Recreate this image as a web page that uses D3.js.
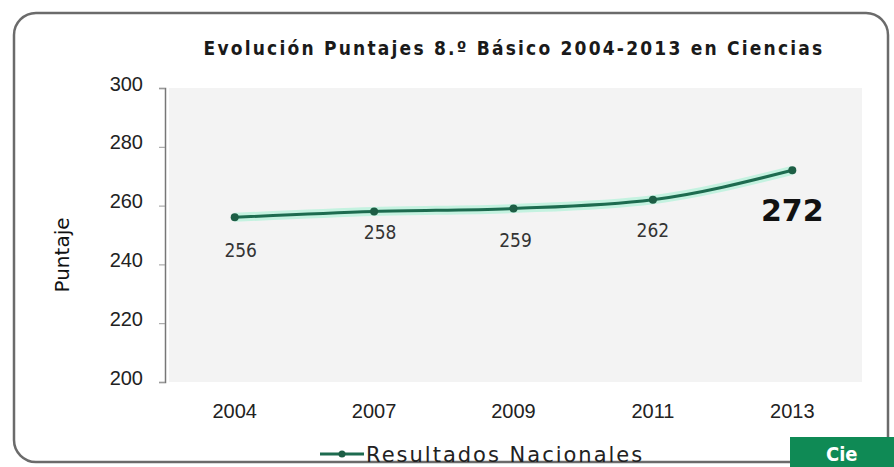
<!DOCTYPE html>
<meta charset="utf-8">
<style>
body { margin: 0; background: #fff; }
svg { display: block; font-family: "DejaVu Sans Condensed", "DejaVu Sans", sans-serif; }
.ticks text { font-size: 20px; fill: #222; }
</style>
<body></body>
<script src="https://cdn.jsdelivr.net/npm/d3@7"></script>
<script>

// data
var years = ["2004", "2007", "2009", "2011", "2013"];
var scores = [256, 258, 259, 262, 272];
var yTicks = [200, 220, 240, 260, 280, 300];

var width = 894, height = 467;
var plot = {left: 165, right: 862, top: 88, bottom: 382};

var svg = d3.select("body").append("svg")
    .attr("width", width)
    .attr("height", height);

// slide frame with rounded corners
svg.append("rect")
    .attr("x", 14).attr("y", 13)
    .attr("width", 874).attr("height", 449)
    .attr("rx", 22)
    .attr("fill", "#fff")
    .attr("stroke", "#6b6b6b")
    .attr("stroke-width", 2.5);

var x = d3.scaleBand()
    .domain(years)
    .range([plot.left, plot.right]);

var y = d3.scaleLinear()
    .domain([200, 300])
    .range([plot.bottom, plot.top]);

// light plot background
svg.append("rect")
    .attr("x", plot.left + 4).attr("y", plot.top)
    .attr("width", plot.right - plot.left - 4)
    .attr("height", plot.bottom - plot.top)
    .attr("fill", "#f3f3f3");

// title
svg.append("text")
    .attr("x", 514).attr("y", 55)
    .attr("text-anchor", "middle")
    .style("font-size", "19px")
    .style("font-weight", "bold")
    .style("letter-spacing", "2.2px")
    .attr("fill", "#1a1a1a")
    .text("Evolución Puntajes 8.º Básico 2004-2013 en Ciencias");

// y axis
var yAxis = svg.append("g")
    .attr("class", "ticks")
    .attr("transform", "translate(" + plot.left + ",0)")
    .call(d3.axisLeft(y).tickValues(yTicks).tickSize(6).tickPadding(16));
yAxis.select(".domain").attr("stroke", "#777").attr("stroke-width", 1.5);
yAxis.selectAll(".tick line").attr("stroke", "#999");
yAxis.selectAll(".tick text").attr("dy", "0.1em");

svg.append("text")
    .attr("transform", "translate(69,255) rotate(-90)")
    .attr("text-anchor", "middle")
    .style("font-family", "DejaVu Sans")
    .style("font-size", "20px")
    .attr("fill", "#111")
    .text("Puntaje");

// x axis labels (no visible line)
var xAxis = svg.append("g")
    .attr("class", "ticks")
    .attr("transform", "translate(0," + plot.bottom + ")")
    .call(d3.axisBottom(x).tickSize(0).tickPadding(22));
xAxis.select(".domain").remove();

// line
var line = d3.line()
    .x(function(d, i) { return x(years[i]) + x.bandwidth() / 2; })
    .y(function(d) { return y(d); })
    .curve(d3.curveMonotoneX);

svg.append("path")
    .datum(scores)
    .attr("d", line)
    .attr("fill", "none")
    .attr("stroke", "#c4f2e0")
    .attr("stroke-width", 9);

svg.append("path")
    .datum(scores)
    .attr("d", line)
    .attr("fill", "none")
    .attr("stroke", "#1d6b4f")
    .attr("stroke-width", 3);

svg.selectAll(".pt")
    .data(scores)
    .enter().append("circle")
    .attr("class", "pt")
    .attr("cx", function(d, i) { return x(years[i]) + x.bandwidth() / 2; })
    .attr("cy", function(d) { return y(d); })
    .attr("r", 4)
    .attr("fill", "#1d5e45");

// data labels
var labelDx = [6, 6, 2, 0, 0];
var labelDy = [40, 28, 38, 37, 51];
svg.selectAll(".lbl")
    .data(scores)
    .enter().append("text")
    .attr("class", "lbl")
    .attr("x", function(d, i) { return x(years[i]) + x.bandwidth() / 2 + labelDx[i]; })
    .attr("y", function(d, i) { return y(d) + labelDy[i]; })
    .attr("text-anchor", "middle")
    .style("font-family", function(d, i) { return i == 4 ? "DejaVu Sans" : null; })
    .style("font-size", function(d, i) { return i == 4 ? "30px" : "19px"; })
    .style("font-weight", function(d, i) { return i == 4 ? "bold" : "normal"; })
    .attr("fill", function(d, i) { return i == 4 ? "#111" : "#333"; })
    .text(function(d) { return d; });

// legend
var lg = svg.append("g").attr("transform", "translate(320,454)");
lg.append("line").attr("x1", 0).attr("x2", 44)
    .attr("stroke", "#1d6b4f").attr("stroke-width", 3);
lg.append("circle").attr("cx", 22).attr("r", 3.5).attr("fill", "#1d5e45");
lg.append("text").attr("x", 46).attr("y", 8)
    .style("font-family", "DejaVu Sans")
    .style("font-size", "21px")
    .style("letter-spacing", "2px")
    .attr("fill", "#222")
    .text("Resultados Nacionales");

// green box overlapping from the slide, lower right
svg.append("rect")
    .attr("x", 790).attr("y", 437)
    .attr("width", 110).attr("height", 40)
    .attr("fill", "#0f8a55");
svg.append("text")
    .attr("x", 826).attr("y", 461)
    .style("font-size", "20px").style("font-weight", "bold")
    .attr("fill", "#fff")
    .text("Cie");

</script>
